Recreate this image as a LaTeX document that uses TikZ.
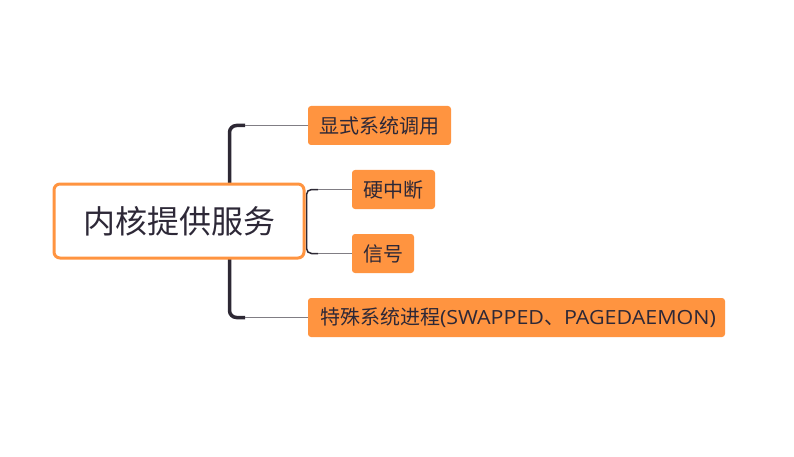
\documentclass[tikz,border=0pt]{standalone}
\usepackage{fontspec}
\setmainfont{Noto Sans CJK SC}
\newfontfamily\latinf[FakeStretch=1.1]{Open Sans}
\begin{document}
\begin{tikzpicture}[x=1pt,y=-1pt,
  rootbox/.style={draw=orangeA, line width=3pt, fill=white, rounded corners=6pt,
    minimum height=74pt, inner sep=0pt, text=txt, font=\fontsize{32}{36}\selectfont},
  leaf/.style={fill=orangeA, rounded corners=3pt, minimum height=39pt, inner sep=0pt,
    text=txt, font=\fontsize{20}{23}\selectfont},
  trunk/.style={draw=trunkc, line width=3.5pt, rounded corners=7pt},
  branch/.style={draw=branchc, line width=1.4pt},
  bracket/.style={draw=trunkc, line width=1.5pt, rounded corners=5pt}]
\definecolor{orangeA}{RGB}{255,148,64}
\definecolor{txt}{RGB}{45,40,55}
\definecolor{trunkc}{RGB}{45,40,52}
\definecolor{branchc}{RGB}{128,125,132}
\useasboundingbox (0,0) rectangle (794,457);
\fill[white] (0,0) rectangle (794,457);
% leaves
\node[leaf, minimum width=143pt] (n1) at (379.5,125.5) {显式系统调用};
\node[leaf, minimum width=83pt]  (n2) at (393.5,189.5) {硬中断};
\node[leaf, minimum width=62pt]  (n3) at (383,253.5) {信号};
\node[leaf, minimum width=417pt, text width=393pt, align=left] (n4) at (516.5,317.5)
  {特殊系统进程{\latinf\fontsize{19.5}{23}\selectfont(SWAPPED}、{\latinf\fontsize{19.5}{23}\selectfont PAGEDAEMON)}};
% trunk
\coordinate (tx) at (229.5,221);
\coordinate (c1) at (245,125.5);
\coordinate (c4) at (245,317.5);
\draw[trunk] (c1) -| (tx) |- (c4);
\draw[branch] (c1) -- (n1.west);
\draw[branch] (c4) -- (n4.west);
% bracket
\coordinate (sx) at (306.5,221);
\coordinate (b2) at (318,189.5);
\coordinate (b3) at (318,253.5);
\draw[bracket] (b2) -| (sx) |- (b3);
\draw[branch] (b2) -- (n2.west);
\draw[branch] (b3) -- (n3.west);
% root
\node[rootbox, minimum width=250pt] (root) at (179,221) {内核提供服务};
\end{tikzpicture}
\end{document}
